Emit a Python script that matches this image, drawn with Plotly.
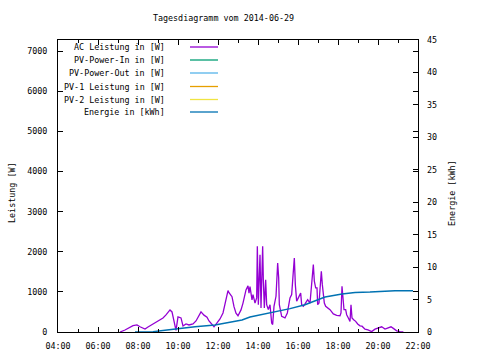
import plotly.graph_objects as go

DAY = "2014-06-29"

# AC Leistung [W]
ac_times = ["07:06","07:21","07:45","07:57","08:06","08:21","08:30","08:45","08:57","09:06",
            "09:15","09:24","09:36","09:42","09:48","09:54","10:00","10:09","10:15","10:24",
            "10:33","10:45","10:54","11:03","11:09","11:18","11:27","11:33","11:48","11:57",
            "12:06","12:15","12:21","12:30","12:33","12:42","12:48","12:54","13:00","13:09",
            "13:15","13:24","13:30","13:33","13:36","13:42","13:45","13:51","13:56","13:58",
            "14:01","14:04","14:06","14:09","14:14","14:16","14:19","14:23","14:26","14:31",
            "14:36","14:41","14:44","14:48","14:54","14:59","15:02","15:04","15:11","15:21",
            "15:28","15:36","15:41","15:46","15:49","15:52","15:56","16:01","16:08","16:11",
            "16:16","16:21","16:29","16:36","16:39","16:43","16:46","16:49","16:53","16:57",
            "16:59","17:03","17:07","17:10","17:13","17:16","17:19","17:23","17:29","17:36",
            "17:46","17:56","18:06","18:09","18:12","18:15","18:18","18:23","18:26","18:31",
            "18:36","18:39","18:42","18:47","18:53","18:59","19:06","19:12","19:21","19:30",
            "19:41","19:51","20:01","20:11","20:21","20:31","20:39","20:46","20:56","21:06",
            "21:16"]
ac_watts = [0, 50, 157, 175, 130, 75, 125, 200, 250, 300,
            350, 425, 550, 500, 250, 40, 375, 350, 150, 200,
            175, 200, 275, 400, 500, 420, 370, 275, 130, 225,
            325, 475, 675, 1030, 980, 880, 630, 470, 405, 550,
            720, 1050, 1150, 970, 1130, 800, 930, 720, 850, 2135,
            680, 1430, 1925, 600, 2135, 1300, 600, 1300, 680, 560,
            680, 225, 185, 640, 890, 1720, 1350, 680, 390, 350,
            475, 850, 930, 1510, 1845, 1180, 765, 850, 970, 680,
            640, 700, 805, 720, 1015, 1350, 1680, 1265, 1100, 1100,
            680, 720, 1100, 1510, 1180, 930, 720, 640, 600, 555,
            450, 415, 405, 475, 1140, 680, 555, 555, 430, 350,
            265, 680, 350, 305, 265, 200, 155, 145, 70, 50,
            10, 70, 110, 130, 75, 110, 130, 90, 30, 10,
            0]

# Energie [kWh]
en_times = ["07:51","08:45","09:27","09:51","10:06","10:51","11:51","12:30","13:12","13:36",
            "13:51","14:36","15:36","16:21","16:36","17:21","18:12","18:51","19:36","20:51",
            "21:45"]
en_kwh = [0, 0.05, 0.3, 0.46, 0.6, 0.8, 1.08, 1.5, 1.85, 2.3,
          2.45, 2.9, 3.6, 4.2, 4.5, 5.4, 5.85, 6.1, 6.15, 6.35,
          6.35]

# empty series (no data that day)
pv_in_w, pv_out_w, pv1_w, pv2_w = [], [], [], []

legend_labels = ["AC Leistung in [W]", "PV-Power-In in [W]", "PV-Power-Out in [W]",
                 "PV-1 Leistung in [W]", "PV-2 Leistung in [W]", "Energie in [kWh]"]
colors = ["#9400d3", "#009e73", "#56b4e9", "#e69f00", "#f0e442", "#0072b2"]

y1_ticks = [0, 1000, 2000, 3000, 4000, 5000, 6000, 7000]
y2_ticks = [0, 5, 10, 15, 20, 25, 30, 35, 40, 45]
x_ticks = ["04:00", "06:00", "08:00", "10:00", "12:00", "14:00", "16:00", "18:00", "20:00", "22:00"]

FONT = "DejaVu Sans Mono"
FS = 8.4

def ts(t):
    return f"{DAY} {t}:00"

fig = go.Figure()
fig.add_trace(go.Scatter(x=[ts(t) for t in ac_times], y=ac_watts, mode="lines",
                         line=dict(color=colors[0], width=1.3), name=legend_labels[0],
                         showlegend=False))
for vals, name, c in zip([pv_in_w, pv_out_w, pv1_w, pv2_w], legend_labels[1:5], colors[1:5]):
    fig.add_trace(go.Scatter(x=[], y=vals, mode="lines", line=dict(color=c, width=1.3),
                             name=name, showlegend=False))
fig.add_trace(go.Scatter(x=[ts(t) for t in en_times], y=en_kwh, mode="lines",
                         line=dict(color=colors[5], width=1.5), name=legend_labels[5],
                         yaxis="y2", showlegend=False))

L, R, T, B = 58, 62, 40, 28
W, H = 480, 360
pw, ph = W - L - R, H - T - B

annotations = []
shapes = []
row_y = [47, 60, 73, 86.5, 99.5, 112]
for lab, c, py in zip(legend_labels, colors, row_y):
    yp = (H - B - py) / ph
    annotations.append(dict(xref="paper", yref="paper", x=(167 - L) / pw, y=yp,
                            text=lab, showarrow=False, xanchor="right", yanchor="middle",
                            font=dict(family=FONT, size=FS, color="black")))
    shapes.append(dict(type="line", xref="paper", yref="paper",
                       x0=(190 - L) / pw, x1=(218 - L) / pw, y0=yp, y1=yp,
                       line=dict(color=c, width=1.3)))

annotations.append(dict(xref="paper", yref="paper", x=(12 - L) / pw, y=(H - B - 193) / ph,
                        text="Leistung [W]", textangle=-90, showarrow=False,
                        xanchor="center", yanchor="middle",
                        font=dict(family=FONT, size=FS, color="black")))
annotations.append(dict(xref="paper", yref="paper", x=(452 - L) / pw, y=(H - B - 193) / ph,
                        text="Energie [kWh]", textangle=-90, showarrow=False,
                        xanchor="center", yanchor="middle",
                        font=dict(family=FONT, size=FS, color="black")))

fig.update_layout(
    width=W, height=H,
    margin=dict(l=L, r=R, t=T, b=B, autoexpand=False),
    paper_bgcolor="white", plot_bgcolor="white",
    font=dict(family=FONT, size=FS, color="black"),
    title=dict(text="Tagesdiagramm vom 2014-06-29", x=223.5 / W, xanchor="center",
               y=1 - 18 / H, yanchor="middle", font=dict(family=FONT, size=FS, color="black")),
    xaxis=dict(type="date", range=[ts("04:00"), ts("22:00")],
               tickmode="array", tickvals=[ts(t) for t in x_ticks], ticktext=x_ticks,
               ticks="inside", ticklen=5, tickcolor="black", showgrid=False, zeroline=False,
               showline=True, linecolor="black", linewidth=1, mirror="ticks",
               ticklabelstandoff=6,
               minor=dict(ticks="inside", ticklen=3, dtick=3600000, tick0=ts("04:00"),
                          tickcolor="black", showgrid=False)),
    yaxis=dict(range=[0, 7275], tickmode="array", tickvals=y1_ticks,
               ticks="inside", ticklen=5, tickcolor="black", showgrid=False, zeroline=False,
               showline=True, linecolor="black", linewidth=1, mirror="ticks",
               ticklabelstandoff=8),
    yaxis2=dict(range=[0, 45], tickmode="array", tickvals=y2_ticks, overlaying="y",
                side="right", ticks="inside", ticklen=5, tickcolor="black",
                showgrid=False, zeroline=False, showline=False, ticklabelstandoff=8),
    annotations=annotations, shapes=shapes,
)

fig.write_html("out.html", config={"displayModeBar": False},
               post_script="document.body.style.margin='0';document.body.style.padding='0';")
